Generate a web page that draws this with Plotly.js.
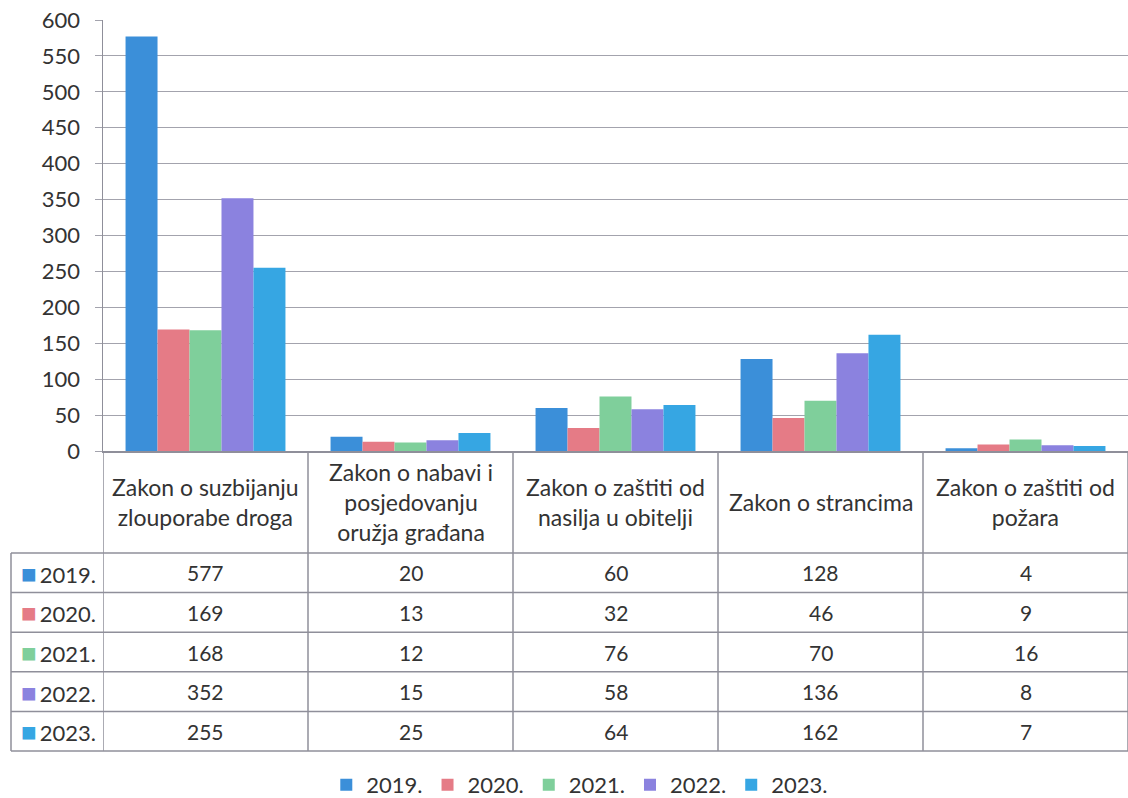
<!DOCTYPE html>
<html>
<head>
<meta charset="utf-8">
<script src="https://cdn.plot.ly/plotly-3.0.1.min.js"></script>
<style>html,body{margin:0;padding:0;background:#fff;}#chart{width:1128px;height:798px;}</style>
</head>
<body>
<div id="chart"></div>
<script>
// ---- data ----
const categories = [
  "Zakon o suzbijanju zlouporabe droga",
  "Zakon o nabavi i posjedovanju oružja građana",
  "Zakon o zaštiti od nasilja u obitelji",
  "Zakon o strancima",
  "Zakon o zaštiti od požara"
];
const headerLabels = [
  "Zakon o suzbijanju<br>zlouporabe droga",
  "Zakon o nabavi i<br>posjedovanju<br>oružja građana",
  "Zakon o zaštiti od<br>nasilja u obitelji",
  "Zakon o strancima",
  "Zakon o zaštiti od<br>požara"
];
const years = ["2019.", "2020.", "2021.", "2022.", "2023."];
const values2019 = [577, 20, 60, 128, 4];
const values2020 = [169, 13, 32, 46, 9];
const values2021 = [168, 12, 76, 70, 16];
const values2022 = [352, 15, 58, 136, 8];
const values2023 = [255, 25, 64, 162, 7];
const yTicks = [0, 50, 100, 150, 200, 250, 300, 350, 400, 450, 500, 550, 600];

// ---- styles ----
const seriesValues = [values2019, values2020, values2021, values2022, values2023];
const colors = ["#3b8fd9", "#e57b86", "#7fcf9b", "#8b82df", "#36a6e3"];
const W = 1128, H = 798;
const FONT = 'Lato, "Open Sans", "Noto Sans", sans-serif';
const TXT = "#333333";
const GRID = "#a3a3ad";
const BORDER = "#8f8f9a";
const py = p => 1 - p / H;
const px = p => p / W;

// table geometry (pixels)
const axisY = 451, headerBottom = 553, tableBottom = 751, leftEdge = 11, plotLeft = 103;
const rowH = (tableBottom - headerBottom) / years.length;

const traces = seriesValues.map((vals, i) => ({
  type: "bar",
  name: years[i],
  x: categories,
  y: vals,
  marker: {color: colors[i], line: {width: 0}},
  hoverinfo: "x+y+name"
}));

const shapes = [];
const annotations = [];
const n = categories.length;
// vertical lines at category boundaries (through x axis)
for (let k = 0; k <= n; k++) {
  shapes.push({type: "line", xref: "x", yref: "paper", x0: k - 0.5, x1: k - 0.5,
    y0: py(axisY), y1: py(tableBottom), line: {color: BORDER, width: 1.5}});
}
// left edge of row-label column
shapes.push({type: "line", xref: "paper", yref: "paper", x0: px(leftEdge), x1: px(leftEdge),
  y0: py(headerBottom), y1: py(tableBottom), line: {color: BORDER, width: 1.5}});
// horizontal row lines
for (let r = 0; r <= years.length; r++) {
  const yy = headerBottom + r * rowH;
  shapes.push({type: "line", xref: "paper", yref: "paper", x0: px(leftEdge), x1: 1,
    y0: py(yy), y1: py(yy), line: {color: BORDER, width: 1.5}});
}
// header labels
headerLabels.forEach((t, j) => {
  annotations.push({xref: "x", yref: "paper", x: categories[j], y: py((axisY + headerBottom) / 2),
    text: t, showarrow: false, xanchor: "center", yanchor: "middle",
    font: {family: FONT, size: 23, color: TXT}});
});
// row labels and values
years.forEach((yr, i) => {
  const yc = py(headerBottom + (i + 0.5) * rowH);
  annotations.push({xref: "paper", yref: "paper", x: px((leftEdge + plotLeft) / 2 + 1), y: yc,
    text: '<span style="color:' + colors[i] + ';font-size:26px">■</span><span style="font-size:12px"> </span>' + yr,
    showarrow: false, xanchor: "center", yanchor: "middle",
    font: {family: FONT, size: 22, color: TXT}});
  seriesValues[i].forEach((v, j) => {
    annotations.push({xref: "x", yref: "paper", x: categories[j], y: yc,
      text: String(v), showarrow: false, xanchor: "center", yanchor: "middle",
      font: {family: FONT, size: 21, color: TXT}});
  });
});

const layout = {
  width: W, height: H,
  margin: {l: 0, r: 0, t: 0, b: 0, autoexpand: false},
  paper_bgcolor: "#ffffff", plot_bgcolor: "#ffffff",
  font: {family: FONT, color: TXT, size: 20},
  barmode: "group", bargap: 0.22, bargroupgap: 0,
  showlegend: true,
  legend: {orientation: "h", x: 0.514, xanchor: "center", y: py(785), yanchor: "middle",
    font: {family: FONT, size: 22, color: TXT}, traceorder: "normal", itemwidth: 30},
  xaxis: {domain: [px(plotLeft), 1], type: "category", range: [-0.5, n - 0.5],
    showticklabels: false, ticks: "", showgrid: false, zeroline: false,
    showline: true, linecolor: BORDER, linewidth: 1.5, fixedrange: true},
  yaxis: {domain: [py(axisY), py(20)], range: [0, 600], tickvals: yTicks,
    ticktext: yTicks.map(String), ticks: "outside", ticklen: 7, tickcolor: GRID,
    tickwidth: 1, showgrid: true, gridcolor: GRID, gridwidth: 1, zeroline: false,
    showline: true, linecolor: BORDER, linewidth: 1.5, ticklabelstandoff: 10,
    tickfont: {family: FONT, size: 22, color: TXT}, fixedrange: true},
  shapes: shapes,
  annotations: annotations
};

Plotly.newPlot("chart", traces, layout, {displayModeBar: false, staticPlot: true});
</script>
</body>
</html>
